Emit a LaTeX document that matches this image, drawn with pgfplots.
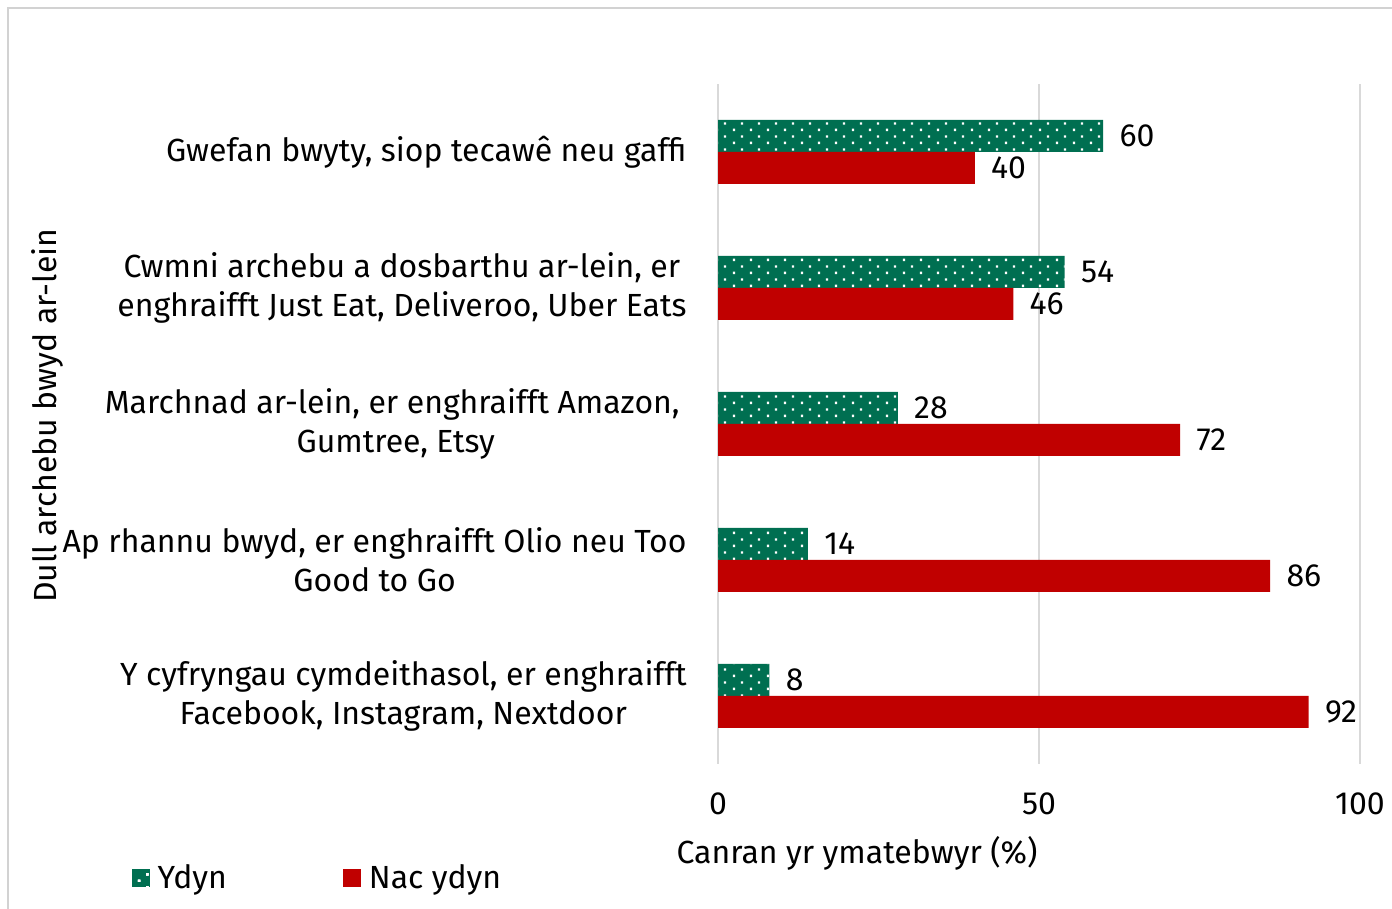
\documentclass[border=0pt]{standalone}
\usepackage{fontspec}
\setmainfont{Fira Sans}
\usepackage{pgfplots}
\pgfplotsset{compat=1.18}
\usetikzlibrary{patterns}
\definecolor{ygreen}{HTML}{006F51}
\definecolor{nred}{HTML}{C00000}
\definecolor{gridc}{HTML}{D9D9D9}
\pgfdeclarepatternformonly{wdots}{\pgfqpoint{0pt}{0pt}}{\pgfqpoint{8.5pt}{6.4pt}}{\pgfqpoint{8.5pt}{6.4pt}}{%
  \pgfpathrectangle{\pgfqpoint{1pt}{1pt}}{\pgfqpoint{1.2pt}{1.2pt}}%
  \pgfpathrectangle{\pgfqpoint{5.25pt}{4.2pt}}{\pgfqpoint{1.2pt}{1.2pt}}%
  \pgfusepath{fill}}
\begin{document}
\begin{tikzpicture}
\useasboundingbox (0,0) rectangle (696pt,454.5pt);
\draw[color=gray!35, line width=0.8pt] (4pt,-10pt) rectangle (720pt,450.5pt);
\begin{axis}[
  at={(359pt,72.5pt)}, anchor=south west,
  scale only axis, width=321pt, height=340pt,
  font=\fontsize{16}{19.5}\selectfont,
  /pgf/number format/assume math mode=true,
  xbar, bar width=16pt,
  xmin=0, xmax=100, ymin=-0.5, ymax=4.5,
  xtick={0,50,100},
  ytick={0,1,2,3,4},
  yticklabels={{Y cyfryngau cymdeithasol, er enghraifft\\Facebook, Instagram, Nextdoor},
               {Ap rhannu bwyd, er enghraifft Olio neu Too\\Good to Go},
               {Marchnad ar-lein, er enghraifft Amazon,\hspace*{3.5pt}\\Gumtree, Etsy},
               {Cwmni archebu a dosbarthu ar-lein, er\\enghraifft Just Eat, Deliveroo, Uber Eats},
               {Gwefan bwyty, siop tecawê neu gaffi}},
  yticklabel style={align=center, anchor=east, inner sep=0pt, xshift=-15.5pt},
  xticklabel style={anchor=north, inner sep=0pt, yshift=-14pt},
  major tick length=0pt,
  axis line style={draw=none},
  xmajorgrids, grid style={color=gridc, line width=0.75pt},
  xlabel={Canran yr ymatebwyr (\%)},
  xlabel style={at={(axis description cs:0.2165,0)}, anchor=center, yshift=-44.5pt},
  ylabel={Dull archebu bwyd ar-lein},
  ylabel style={at={(axis description cs:-1.045,0.512)}, anchor=center, rotate=0},
  nodes near coords,
  nodes near coords style={anchor=west, inner sep=0pt, xshift=8pt, font=\fontsize{16}{19.5}\selectfont, text=black},
  legend columns=2,
  legend style={at={(axis description cs:-0.914,-0.168)}, anchor=west, draw=none, fill=none,
    inner sep=0pt, font=\fontsize{16}{19.5}\selectfont,
    /tikz/every even column/.append style={column sep=58pt},
    nodes={inner sep=0pt, anchor=west}},
  legend cell align=left,
]
\addplot[draw=none, fill=ygreen, bar shift=8pt,
  postaction={pattern=wdots, pattern color=white},
  legend image code/.code={\fill[ygreen] (0pt,-4.5pt) rectangle (9pt,4.5pt);
     \fill[pattern=wdots, pattern color=white] (0pt,-4.5pt) rectangle (9pt,4.5pt);
     \path (13pt,0pt);}]
  coordinates {(8,0) (14,1) (28,2) (54,3) (60,4)};
\addlegendentry{Ydyn}
\addplot[draw=none, fill=nred, bar shift=-8pt,
  legend image code/.code={\fill[nred] (0pt,-4.5pt) rectangle (9pt,4.5pt); \path (13pt,0pt);}]
  coordinates {(92,0) (86,1) (72,2) (46,3) (40,4)};
\addlegendentry{Nac ydyn}
\end{axis}
\end{tikzpicture}
\end{document}
